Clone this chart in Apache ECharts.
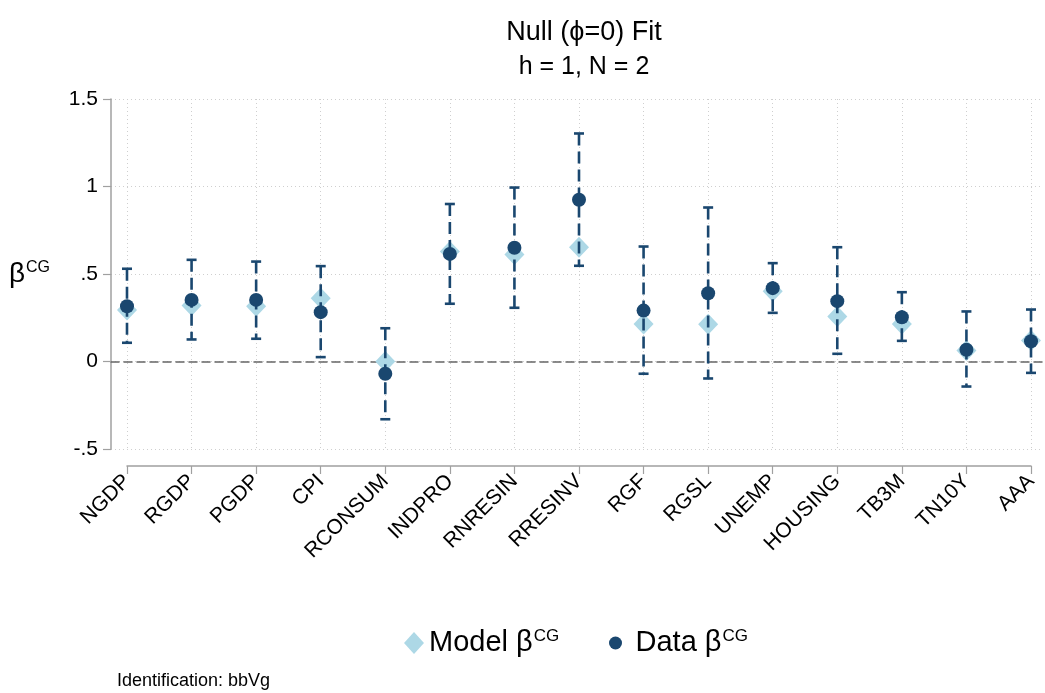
<!DOCTYPE html>
<html>
<head>
<meta charset="utf-8">
<script src="https://cdn.jsdelivr.net/npm/echarts@6/dist/echarts.min.js"></script>
<style>html,body{margin:0;padding:0;background:#fff}#c{width:1045px;height:693px}</style>
</head>
<body>
<div id="c"></div>
<script>
const categories = ['NGDP','RGDP','PGDP','CPI','RCONSUM','INDPRO','RNRESIN','RRESINV','RGF','RGSL','UNEMP','HOUSING','TB3M','TN10Y','AAA'];
const modelBeta = [0.295,0.32,0.316,0.362,0.0,0.629,0.611,0.653,0.215,0.213,0.402,0.257,0.215,0.063,0.12];
const dataBeta  = [0.316,0.352,0.352,0.282,-0.07,0.615,0.65,0.924,0.291,0.39,0.419,0.345,0.253,0.067,0.116];
const ciLow     = [0.107,0.126,0.13,0.025,-0.33,0.33,0.307,0.547,-0.07,-0.097,0.278,0.044,0.118,-0.143,-0.065];
const ciHigh    = [0.53,0.581,0.571,0.545,0.19,0.90,0.994,1.303,0.657,0.88,0.562,0.653,0.396,0.286,0.297];
const yTicks = {min: -0.5, max: 1.5, interval: 0.5};

const FONT = '"Liberation Sans", Arial, Helvetica, sans-serif';
const NAVY = '#1a476f';
const LIGHT = '#add8e6';

const chart = echarts.init(document.getElementById('c'));
const fmtY = v => {
  if (Math.abs(v) < 1e-9) return '0';
  let s = String(+v.toFixed(2));
  return s.replace(/^0\./, '.').replace(/^-0\./, '-.');
};
const gTop = 99, gBottom = 693 - 449;
const legendRich = {
  b: {fontFamily: FONT, fontSize: 29, color: '#000', lineHeight: 34},
  s: {fontFamily: FONT, fontSize: 17, color: '#000', lineHeight: 34, padding: [0,0,13,1]}
};

chart.setOption({
  animation: false,
  backgroundColor: '#fff',
  textStyle: {fontFamily: FONT},
  title: {
    text: 'Null (ϕ=0) Fit',
    subtext: 'h = 1, N = 2',
    left: 579, textAlign: 'center', top: 14, itemGap: 9,
    textStyle: {fontFamily: FONT, fontWeight: 'normal', fontSize: 27, color: '#000'},
    subtextStyle: {fontFamily: FONT, fontSize: 25, color: '#000'}
  },
  legend: [
    {
      left: 399, top: 623,
      itemWidth: 20, itemHeight: 22,
      data: [{name: 'Model', icon: 'diamond', itemStyle: {color: LIGHT}}],
      formatter: n => '{b|' + n + ' β}{s|CG}',
      textStyle: {fontFamily: FONT, color: '#000', rich: legendRich}
    },
    {
      left: 604, top: 623,
      itemWidth: 30, itemHeight: 13,
      data: [{name: 'Data', icon: 'circle', itemStyle: {color: NAVY}}],
      formatter: n => '{b|' + n + ' β}{s|CG}',
      textStyle: {fontFamily: FONT, color: '#000', rich: legendRich}
    }
  ],
  grid: [
    {left: 111, right: 2, top: gTop, bottom: gBottom, containLabel: false},
    {left: 127, right: 14, top: gTop, bottom: gBottom, containLabel: false}
  ],
  xAxis: [
    {
      gridIndex: 0, type: 'value', min: 0, max: 1,
      axisLine: {show: true, onZero: true, lineStyle: {color: '#666', width: 1.5, type: [8,5]}},
      axisTick: {show: false}, axisLabel: {show: false}, splitLine: {show: false}
    },
    {
      gridIndex: 1, type: 'category', data: categories, boundaryGap: false,
      offset: 17,
      axisLine: {show: true, onZero: false, lineStyle: {color: '#a0a0a0', width: 1.5}},
      axisTick: {show: true, length: 8, inside: false, interval: 0, lineStyle: {color: '#a0a0a0', width: 1.2}},
      axisLabel: {show: true, interval: 0, rotate: 45, fontSize: 21, color: '#000', fontFamily: FONT, margin: 12},
      splitLine: {show: true, interval: 0, lineStyle: {color: '#cfcfcf', type: [1,3], width: 1}}
    }
  ],
  yAxis: [
    {
      gridIndex: 0, type: 'value', min: yTicks.min, max: yTicks.max, interval: yTicks.interval,
      axisLine: {show: true, lineStyle: {color: '#a0a0a0', width: 1.5}},
      axisTick: {show: true, length: 8, lineStyle: {color: '#a0a0a0', width: 1.2}},
      axisLabel: {fontSize: 21, color: '#000', fontFamily: FONT, margin: 13, formatter: fmtY},
      splitLine: {show: true, lineStyle: {color: '#cfcfcf', type: [1,3], width: 1}},
      name: '{b|β}{s|CG}', nameLocation: 'middle', nameRotate: 0, nameGap: 61,
      nameTextStyle: {
        align: 'right',
        rich: {
          b: {fontFamily: FONT, fontSize: 28, color: '#000', lineHeight: 34},
          s: {fontFamily: FONT, fontSize: 16, color: '#000', lineHeight: 34, padding: [0,0,13,1]}
        }
      }
    },
    {
      gridIndex: 1, type: 'value', min: yTicks.min, max: yTicks.max, interval: yTicks.interval,
      show: false, splitLine: {show: false}
    }
  ],
  graphic: [
    {type: 'text', left: 117, top: 672, style: {text: 'Identification: bbVg', fontFamily: FONT, fontSize: 18, fill: '#000'}}
  ],
  series: [
    {
      name: 'Model', type: 'scatter', xAxisIndex: 1, yAxisIndex: 1,
      symbol: 'diamond', symbolSize: [20, 21],
      itemStyle: {color: LIGHT, opacity: 1},
      data: modelBeta.map((v, i) => [i, v]), z: 2
    },
    {
      name: 'CI', type: 'custom', xAxisIndex: 1, yAxisIndex: 1,
      data: ciLow.map((v, i) => [i, v, ciHigh[i]]), z: 3,
      renderItem: (params, api) => {
        const lo = api.coord([api.value(0), api.value(1)]);
        const hi = api.coord([api.value(0), api.value(2)]);
        const w = 5;
        const st = {stroke: NAVY, lineWidth: 2.6};
        return {
          type: 'group',
          children: [
            {type: 'line', shape: {x1: hi[0], y1: hi[1], x2: lo[0], y2: lo[1]}, style: Object.assign({lineDash: [12, 6]}, st)},
            {type: 'line', shape: {x1: hi[0] - w, y1: hi[1], x2: hi[0] + w, y2: hi[1]}, style: st},
            {type: 'line', shape: {x1: lo[0] - w, y1: lo[1], x2: lo[0] + w, y2: lo[1]}, style: st}
          ]
        };
      }
    },
    {
      name: 'Data', type: 'scatter', xAxisIndex: 1, yAxisIndex: 1,
      symbol: 'circle', symbolSize: 14,
      itemStyle: {color: NAVY, opacity: 1},
      data: dataBeta.map((v, i) => [i, v]), z: 4
    }
  ]
});
</script>
</body>
</html>
